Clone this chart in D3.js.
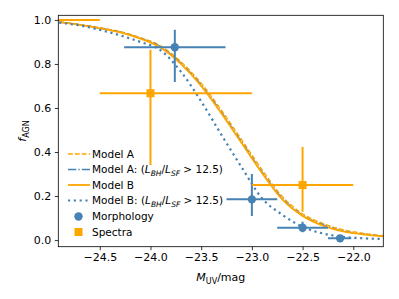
<!DOCTYPE html>
<html>
<head>
<meta charset="utf-8">
<script src="https://cdn.jsdelivr.net/npm/d3@7"></script>
<style>
  body { margin: 0; background: #fff; }
  text { font-family: "DejaVu Sans", sans-serif; fill: #000; }
</style>
</head>
<body>
<div class="canvas"></div>
<script>
const WIDTH = 399;
const HEIGHT = 299;
const margin = { top: 15.3, right: 15.7, bottom: 52.3, left: 58.3 };
const graphWidth = WIDTH - margin.left - margin.right;
const graphHeight = HEIGHT - margin.top - margin.bottom;

const ORANGE = '#ffa500';
const BLUE = '#4682b4';

// model curves
const mags = [-24.9, -24.7, -24.5, -24.3, -24.1, -23.9, -23.7, -23.5, -23.3, -23.1, -22.9, -22.7, -22.5, -22.3, -22.1, -21.9, -21.7];
const modelA = [0.991, 0.98, 0.965, 0.947, 0.92, 0.882, 0.81, 0.713, 0.59, 0.455, 0.32, 0.198, 0.12, 0.076, 0.047, 0.031, 0.02];
const modelAHigh = [0.99, 0.979, 0.963, 0.945, 0.917, 0.878, 0.804, 0.705, 0.58, 0.446, 0.31, 0.19, 0.113, 0.07, 0.042, 0.027, 0.018];
const modelB = [0.99, 0.978, 0.962, 0.943, 0.915, 0.875, 0.8, 0.7, 0.575, 0.44, 0.305, 0.185, 0.11, 0.066, 0.04, 0.026, 0.017];
const modelBHigh = [0.988, 0.975, 0.955, 0.93, 0.9, 0.862, 0.765, 0.63, 0.478, 0.33, 0.19, 0.115, 0.06, 0.03, 0.015, 0.008, 0.005];

// morphology points
const morphX = [-23.76, -23.0, -22.5, -22.13];
const morphY = [0.876, 0.185, 0.056, 0.008];
const morphXLo = [0.5, 0.25, 0.25, 0.12];
const morphXHi = [0.5, 0.25, 0.25, 0.11];
const morphYLo = [0.158, 0.076, 0.02, 0.008];
const morphYHi = [0.079, 0.115, 0.027, 0.008];

// spectra points
const specX = [-25.0, -24.0, -22.5];
const specY = [1.0, 0.667, 0.25];
const specXLo = [0.5, 0.5, 0.5];
const specXHi = [0.5, 1.0, 0.5];
const specYLo = [0, 0.326, 0.121];
const specYHi = [0, 0.197, 0.173];

const xTicks = [-24.5, -24.0, -23.5, -23.0, -22.5, -22.0];
const yTicks = [0.0, 0.2, 0.4, 0.6, 0.8, 1.0];

const svg = d3.select('.canvas')
  .append('svg')
    .attr('width', WIDTH)
    .attr('height', HEIGHT);

const graph = svg.append('g')
  .attr('transform', `translate(${margin.left},${margin.top})`);

const x = d3.scaleLinear()
  .domain([-24.909, -21.704])
  .range([0, graphWidth]);
const y = d3.scaleLinear()
  .domain([-0.03, 1.021])
  .range([graphHeight, 0]);

svg.append('defs').append('clipPath')
    .attr('id', 'plotClip')
  .append('rect')
    .attr('width', graphWidth)
    .attr('height', graphHeight);

const plot = graph.append('g').attr('clip-path', 'url(#plotClip)');

// curves
const line = d3.line()
  .x(d => x(d[0]))
  .y(d => y(d[1]))
  .curve(d3.curveMonotoneX);

const curves = [
  { vals: modelA, color: ORANGE, width: 1.3, dash: '4.8,2.1' },
  { vals: modelAHigh, color: BLUE, width: 1.3, dash: '8.3,2.1,1.3,2.1' },
  { vals: modelB, color: ORANGE, width: 1.8, dash: null },
  { vals: modelBHigh, color: BLUE, width: 2.2, dash: '2.2,3.6' }
];

curves.forEach(c => {
  plot.append('path')
    .datum(mags.map((m, i) => [m, c.vals[i]]))
    .attr('d', line)
    .attr('fill', 'none')
    .attr('stroke', c.color)
    .attr('stroke-width', c.width)
    .attr('stroke-dasharray', c.dash);
});

// error bars
function errorBars(xs, ys, xlo, xhi, ylo, yhi, color) {
  const g = plot.append('g').attr('stroke', color).attr('stroke-width', 2);
  xs.forEach((xv, i) => {
    g.append('line')
      .attr('x1', x(xv - xlo[i])).attr('x2', x(xv + xhi[i]))
      .attr('y1', y(ys[i])).attr('y2', y(ys[i]));
    if (ylo[i] + yhi[i] > 0) {
      g.append('line')
        .attr('x1', x(xv)).attr('x2', x(xv))
        .attr('y1', y(ys[i] - ylo[i])).attr('y2', y(ys[i] + yhi[i]));
    }
  });
}

errorBars(morphX, morphY, morphXLo, morphXHi, morphYLo, morphYHi, BLUE);
plot.selectAll('circle.morph')
  .data(morphX)
  .enter()
  .append('circle')
    .attr('cx', d => x(d))
    .attr('cy', (d, i) => y(morphY[i]))
    .attr('r', 4.2)
    .attr('fill', BLUE);

errorBars(specX, specY, specXLo, specXHi, specYLo, specYHi, ORANGE);
plot.selectAll('rect.spec')
  .data(specX)
  .enter()
  .append('rect')
    .attr('x', d => x(d) - 4)
    .attr('y', (d, i) => y(specY[i]) - 4)
    .attr('width', 8)
    .attr('height', 8)
    .attr('fill', ORANGE);

// axes
const xAxis = d3.axisBottom(x)
  .tickValues(xTicks)
  .tickSize(3.5)
  .tickPadding(3.5)
  .tickFormat(d => d3.format('.1f')(d).replace('-', '\u2212'));
const yAxis = d3.axisLeft(y)
  .tickValues(yTicks)
  .tickSize(3.5)
  .tickPadding(3.5)
  .tickFormat(d3.format('.1f'));

const xAxisGroup = graph.append('g')
  .attr('transform', `translate(0,${graphHeight})`)
  .call(xAxis);
const yAxisGroup = graph.append('g').call(yAxis);

[xAxisGroup, yAxisGroup].forEach(g => {
  g.select('.domain').remove();
  g.selectAll('text').style('font-size', '11px').attr('fill', '#000');
  g.selectAll('line').attr('stroke', '#000').attr('stroke-width', 0.8);
});

graph.append('rect')
  .attr('width', graphWidth)
  .attr('height', graphHeight)
  .attr('fill', 'none')
  .attr('stroke', '#000')
  .attr('stroke-width', 0.8);

// axis labels
const xLabel = svg.append('text')
  .attr('x', margin.left + graphWidth / 2)
  .attr('y', 281)
  .attr('text-anchor', 'middle')
  .style('font-size', '11px');
xLabel.append('tspan').attr('font-style', 'italic').text('M');
xLabel.append('tspan').attr('dy', 2.5).style('font-size', '8px').text('UV');
xLabel.append('tspan').attr('dy', -2.5).text('/mag');

const yLabel = svg.append('text')
  .attr('transform', `translate(26,${margin.top + graphHeight / 2}) rotate(-90)`)
  .attr('text-anchor', 'middle')
  .style('font-size', '11px');
yLabel.append('tspan').attr('font-style', 'italic').text('f');
yLabel.append('tspan').attr('dy', 2.5).style('font-size', '8px').text('AGN');

// legend
const legendItems = [
  { label: 'Model A', high: false, type: 'line', curve: curves[0], yPos: 154 },
  { label: 'Model A: ', high: true, type: 'line', curve: curves[1], yPos: 169.5 },
  { label: 'Model B', high: false, type: 'line', curve: curves[2], yPos: 185 },
  { label: 'Model B: ', high: true, type: 'line', curve: curves[3], yPos: 200.5 },
  { label: 'Morphology', high: false, type: 'circle', yPos: 216.5 },
  { label: 'Spectra', high: false, type: 'square', yPos: 232 }
];

const legend = svg.append('g');
legendItems.forEach(item => {
  const row = legend.append('g').attr('transform', `translate(0,${item.yPos})`);
  if (item.type === 'line') {
    row.append('line')
      .attr('x1', 68).attr('x2', 90)
      .attr('stroke', item.curve.color)
      .attr('stroke-width', item.curve.width)
      .attr('stroke-dasharray', item.curve.dash);
  } else if (item.type === 'circle') {
    row.append('circle').attr('cx', 78.5).attr('r', 4.2).attr('fill', BLUE);
  } else {
    row.append('rect').attr('x', 74.5).attr('y', -4).attr('width', 8).attr('height', 8).attr('fill', ORANGE);
  }
  const t = row.append('text')
    .attr('x', 92)
    .attr('dy', '0.35em')
    .style('font-size', '10.5px')
    .text(item.label);
  if (item.high) {
    t.append('tspan').text('(');
    t.append('tspan').attr('font-style', 'italic').text('L');
    t.append('tspan').attr('font-style', 'italic').attr('dy', 2.5).style('font-size', '7.5px').text('BH');
    t.append('tspan').attr('dy', -2.5).text('/');
    t.append('tspan').attr('font-style', 'italic').text('L');
    t.append('tspan').attr('font-style', 'italic').attr('dy', 2.5).style('font-size', '7.5px').text('SF');
    t.append('tspan').attr('dy', -2.5).text(' > 12.5)');
  }
});
</script>
</body>
</html>
